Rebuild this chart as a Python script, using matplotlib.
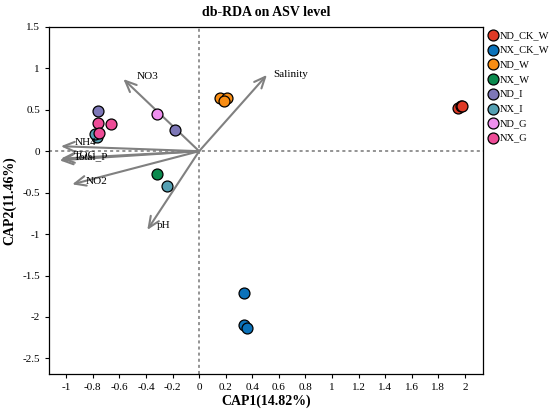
import numpy as np
import matplotlib.pyplot as plt
from matplotlib.ticker import FuncFormatter

plt.rcParams['font.family'] = ['Liberation Serif', 'DejaVu Serif']

# sample scores (CAP1, CAP2) by group
groups = ['ND_CK_W', 'NX_CK_W', 'ND_W', 'NX_W', 'ND_I', 'NX_I', 'ND_G', 'NX_G']
colors = ['#DF3A26', '#0B72BA', '#F98D13', '#0B8A4E', '#7D77B7', '#55A0B3', '#EE8FEE', '#EE4C97']
cap1 = {
    'ND_CK_W': [1.95, 1.97, 1.98],
    'NX_CK_W': [0.34, 0.34, 0.36],
    'ND_W': [0.16, 0.21, 0.19],
    'NX_W': [-0.32],
    'ND_I': [-0.18, -0.76],
    'NX_I': [-0.24, -0.77, -0.78],
    'ND_G': [-0.32],
    'NX_G': [-0.76, -0.66, -0.75],
}
cap2 = {
    'ND_CK_W': [0.52, 0.54, 0.55],
    'NX_CK_W': [-1.71, -2.10, -2.13],
    'ND_W': [0.64, 0.64, 0.60],
    'NX_W': [-0.28],
    'ND_I': [0.25, 0.49],
    'NX_I': [-0.42, 0.17, 0.21],
    'ND_G': [0.445],
    'NX_G': [0.345, 0.325, 0.225],
}

# environmental vectors
env_names = ['NO3', 'Salinity', 'NH4', 'TOC', 'Total_P', 'NO2', 'pH']
env_x = [-0.57, 0.51, -1.04, -1.04, -1.05, -0.955, -0.39]
env_y = [0.87, 0.92, 0.06, -0.09, -0.11, -0.40, -0.95]
# label nudges from arrow tips
lab_dx = [0.1, 0.05, 0.1, 0.1, 0.11, 0.1, 0.07]
lab_dy = [0.03, 0.01, 0.04, 0.04, 0.04, 0.04, 0.05]

fig = plt.figure(figsize=(5.5, 4.13), dpi=100)
ax = fig.add_axes([0.089, 0.094, 0.789, 0.841])

ax.axhline(0, color='#777777', ls=(0, (2, 2)), lw=1.1, zorder=1)
ax.axvline(0, color='#777777', ls=(0, (2, 2)), lw=1.1, zorder=1)

for name, x, y, dx, dy in zip(env_names, env_x, env_y, lab_dx, lab_dy):
    ax.annotate('', xy=(x, y), xytext=(0, 0),
                arrowprops=dict(arrowstyle='->,head_length=0.8,head_width=0.35',
                                color='#808080', lw=1.5, shrinkA=0, shrinkB=0),
                zorder=2)
    ax.text(x + dx, y + dy, name, fontsize=8, ha='left', va='center', zorder=4)

for g, c in zip(groups, colors):
    ax.scatter(cap1[g], cap2[g], s=62, color=c, edgecolor='black',
               linewidth=0.9, label=g, zorder=3)

ax.set_xlim(-1.13, 2.135)
ax.set_ylim(-2.69, 1.5)
ax.set_xticks(np.round(np.arange(-1, 2.01, 0.2), 1))
ax.set_yticks(np.arange(-2.5, 1.51, 0.5))


def fmt_tick(v, p):
    v = round(v, 2)
    if v == 0:
        return '0'
    return '%g' % v


ax.xaxis.set_major_formatter(FuncFormatter(fmt_tick))
ax.yaxis.set_major_formatter(FuncFormatter(fmt_tick))
ax.tick_params(labelsize=8, direction='out', length=3, width=0.8)
for s in ax.spines.values():
    s.set_linewidth(0.9)

ax.set_xlabel('CAP1(14.82%)', fontsize=10, fontweight='bold', labelpad=2)
ax.set_ylabel('CAP2(11.46%)', fontsize=10, fontweight='bold', labelpad=4)
ax.set_title('db-RDA on ASV level', fontsize=10, fontweight='bold', pad=8)

ax.legend(loc='upper left', bbox_to_anchor=(1.0, 1.0), frameon=False,
          fontsize=7.5, handletextpad=0.0, borderaxespad=0.0, borderpad=0.35,
          labelspacing=0.52, markerscale=1.0, handlelength=1.3)

fig.savefig('out.png', dpi=100)
